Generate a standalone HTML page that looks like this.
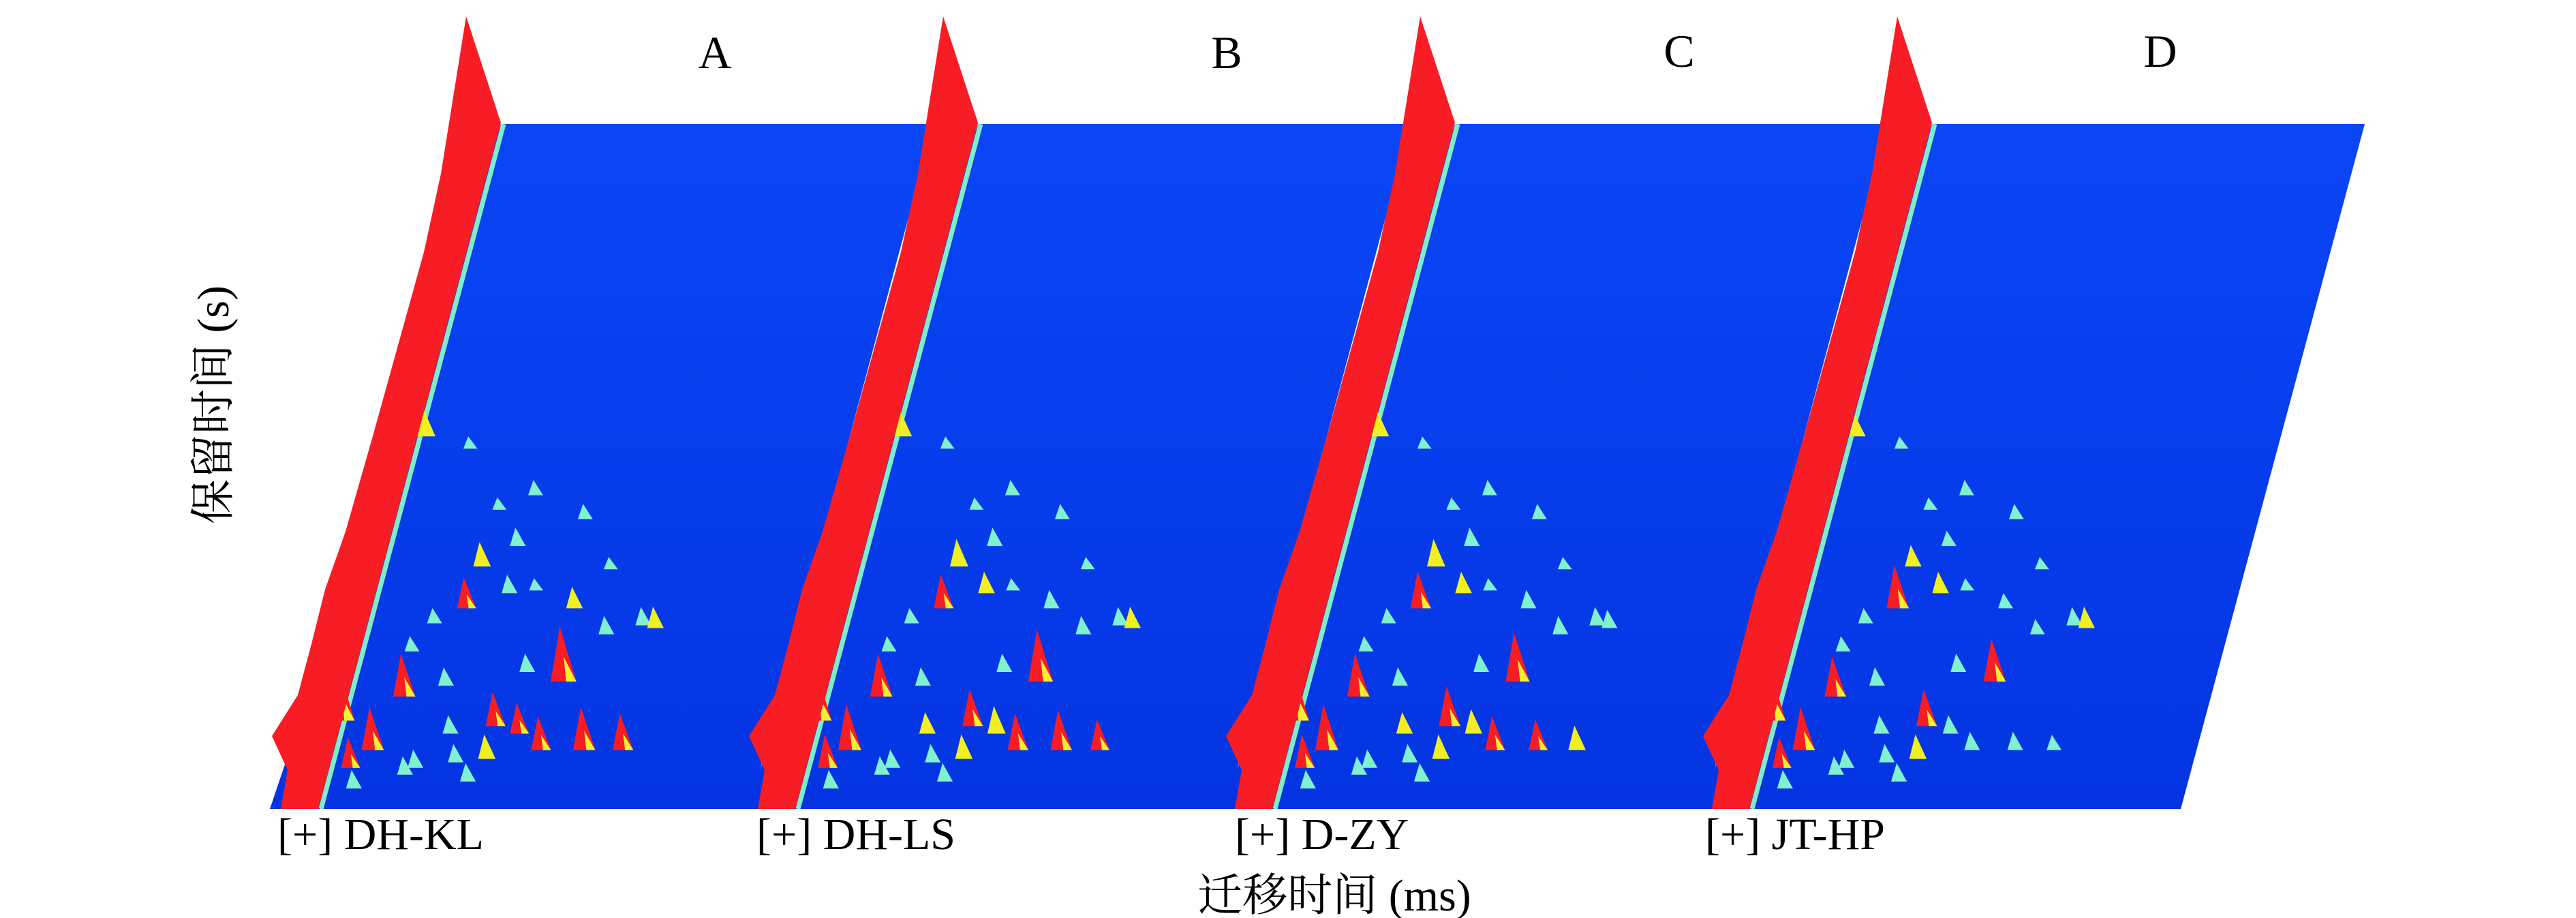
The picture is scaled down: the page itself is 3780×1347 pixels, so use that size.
<!DOCTYPE html>
<html><head><meta charset="utf-8"><style>
html,body{margin:0;padding:0;background:#fff;}
svg{display:block;}
text{font-family:"Liberation Serif","Noto Serif CJK SC",serif;fill:#000;}
</style></head><body>
<svg id="chart" width="3780" height="1347" viewBox="0 0 3780 1347">
<defs>
<linearGradient id="blueg" x1="0" y1="0" x2="0" y2="1">
<stop offset="0" stop-color="#0a46f6"/><stop offset="1" stop-color="#0434e2"/>
</linearGradient>
</defs>
<g id="panels"></g>
<text x="1049" y="100" font-size="68" text-anchor="middle">A</text>
<text x="1800" y="100" font-size="68" text-anchor="middle">B</text>
<text x="2464" y="98" font-size="68" text-anchor="middle">C</text>
<text x="3170" y="98" font-size="68" text-anchor="middle">D</text>
<text x="407" y="1246" font-size="66">[+] DH-KL</text>
<text x="1110" y="1246" font-size="66">[+] DH-LS</text>
<text x="1812" y="1246" font-size="66">[+] D-ZY</text>
<text x="2502" y="1246" font-size="66">[+] JT-HP</text>
<text x="1958" y="1336" font-size="66" text-anchor="middle">迁移时间 (ms)</text>
<text x="0" y="0" font-size="66" text-anchor="middle" transform="translate(335,594) rotate(-90)">保留时间 (s)</text>
</svg>
<script>
// Peak positions: drift (0..1 across plane), retention (0..1 bottom->top)
const peakDrift = [0.02,0.13,0.31,0.235,0.44,0.30,0.23,0.31,0.37,0.47,0.22,0.155,0.67,0.64,0.56,0.49,0.36,0.13,0.22,0.48,0.58,0.67,0.29,0.36,0.09,0.0,0.05,-0.04,-0.08,0.18,0.26,0.42,0.12,0.40,0.53,0.20,0.33,0.07];
const peakRet   = [0.544,0.526,0.458,0.437,0.423,0.384,0.354,0.315,0.319,0.293,0.293,0.271,0.264,0.268,0.255,0.186,0.121,0.164,0.18,0.086,0.086,0.086,0.068,0.073,0.086,0.129,0.06,0.10,0.07,0.05,0.11,0.11,0.23,0.20,0.35,0.06,0.04,0.03];
const intensityA = [0.45,0.2,0.25,0.2,0.25,0.3,0.4,0.3,0.2,0.35,0.5,0.25,0.35,0.3,0.3,0.9,0.55,0.7,0.3,0.55,0.7,0.6,0.3,0.4,0.7,0.9,0.5,0.9,0.8,0.3,0.3,0.5,0.25,0.3,0.2,0.3,0.3,0.3];
const intensityB = [0.4,0.2,0.25,0.2,0.25,0.3,0.45,0.35,0.2,0.3,0.55,0.25,0.35,0.3,0.3,0.85,0.6,0.7,0.3,0.6,0.65,0.5,0.3,0.4,0.75,0.9,0.55,0.95,0.8,0.3,0.35,0.45,0.25,0.3,0.2,0.3,0.3,0.3];
const intensityC = [0.4,0.2,0.25,0.2,0.25,0.3,0.45,0.35,0.2,0.3,0.6,0.25,0.3,0.3,0.3,0.8,0.65,0.7,0.3,0.55,0.5,0.4,0.3,0.4,0.75,0.95,0.55,0.95,0.85,0.3,0.35,0.4,0.25,0.3,0.2,0.3,0.3,0.3];
const intensityD = [0.35,0.2,0.25,0.2,0.25,0.25,0.35,0.35,0.2,0.25,0.7,0.25,0.35,0.3,0.25,0.7,0.6,0.65,0.3,0.3,0.3,0.25,0.3,0.4,0.7,0.9,0.5,0.9,0.8,0.3,0.3,0.3,0.25,0.3,0.2,0.3,0.3,0.3];
const panelNames = ['a','b','c','d'];
const panelIntensity = [intensityA,intensityB,intensityC,intensityD];

const NS='http://www.w3.org/2000/svg';
const root=document.getElementById('panels');
const PW=633, Y0=1187, YT=182, PH=Y0-YT, SK=268, HMAX=90;
function xScale(base,u,v){return base+60+u*PW+v*SK;}
function yScale(v){return Y0-v*PH;}
function mk(tag,attrs){const e=document.createElementNS(NS,tag);for(const k in attrs)e.setAttribute(k,attrs[k]);return e;}

panelNames.forEach((nm,i)=>{
  const base=407+i*700;
  const g=mk('g',{});
  
  
  root.appendChild(g);
  const plane=mk('polygon',{points:[[base-11,Y0],[base+693,Y0],[base+963,YT],[base+328,YT]].map(p=>p.join(',')).join(' '),fill:'url(#blueg)'});
  
  
  g.appendChild(plane);
  const ridge=mk('line',{x1:base+332,y1:YT,x2:base+64,y2:Y0,stroke:'#80ecc8','stroke-width':7});
  
  
  g.appendChild(ridge);
  const inten=panelIntensity[i];
  const order=peakRet.map((v,k)=>k).sort((a,b)=>peakRet[b]-peakRet[a]);
  order.forEach(k=>{
    const x=xScale(base,peakDrift[k],peakRet[k]), y=yScale(peakRet[k]);
    const h=inten[k]*HMAX, w=8+inten[k]*12;
    const c=inten[k]>=0.5?'#f81c24':(inten[k]>=0.35?'#f0f020':'#7ff0d0');
    const t=mk('polygon',{points:`${x-w},${y} ${x+w},${y} ${x-w*0.3},${y-h}`,fill:c});
    
    
    g.appendChild(t);
    if(inten[k]>=0.5){
      const s=mk('polygon',{points:`${x+w*0.2},${y} ${x+w},${y} ${x},${y-h*0.45}`,fill:'#f6f030'});
      
      
      g.appendChild(s);
    }
  });
  const pts=[[base+277,24],[base+328,180],[base+60,Y0],[base+5,Y0],[base+15,1130],[base-8,1080],[base+30,1020],[base+50,945],[base+70,865],[base+100,780],[base+120,710],[base+140,640],[base+165,550],[base+190,460],[base+215,370],[base+240,255]];
  const wall=mk('polygon',{points:pts.map(p=>p.join(',')).join(' '),fill:'#f81c24'});
  
  
  g.appendChild(wall);
});
</script>
</body></html>
